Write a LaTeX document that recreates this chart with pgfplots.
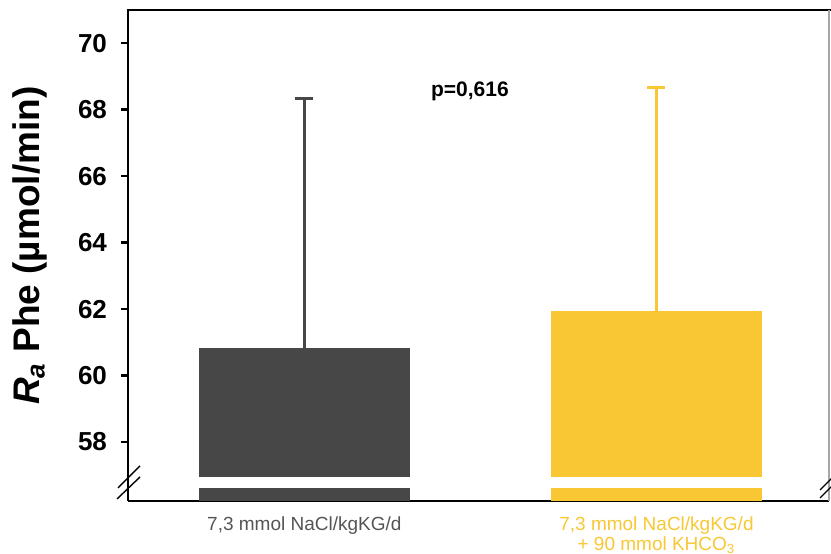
\documentclass[border=0pt]{standalone}
\usepackage{fontspec}
\setmainfont{Liberation Sans}
\usepackage{pgfplots}
\pgfplotsset{compat=1.18}
\definecolor{dgray}{HTML}{474747}
\definecolor{lgray}{HTML}{555555}
\definecolor{yel}{HTML}{F8C733}
\begin{document}
\begin{tikzpicture}
\begin{axis}[
  scale only axis, width=350.5pt, height=245.5pt,
  xmin=-0.501, xmax=1.49, ymin=56.226, ymax=71,
  axis lines=left, axis line style={-, line width=1.4pt, black},
  ytick={58,60,...,70},
  /pgf/number format/assume math mode=true,
  yticklabel style={font=\bfseries\fontsize{13}{13}\selectfont, xshift=-3.5pt},
  tick align=outside, major tick length=3.5pt,
  ytick style={line width=1.2pt, black},
  xtick={0,1}, xtick style={draw=none},
  xticklabels={{\color{lgray}7,3 mmol NaCl/kgKG/d}, {\color{yel}7,3 mmol NaCl/kgKG/d\\\color{yel}+ 90 mmol KHCO\textsubscript{3}}},
  xticklabel style={align=center, font=\fontsize{9.5}{10}\selectfont, yshift=-1pt},
  ylabel={\textit{R}\textsubscript{\textit{a}} Phe (µmol/min)},
  ylabel style={font=\bfseries\fontsize{18.5}{18.5}\selectfont, at={(axis description cs:-0.14,0.52)}, anchor=center},
  clip=true,
]
\addplot[ybar, bar width=0.6, fill=dgray, draw=none,
  error bars/.cd, y dir=plus, y explicit,
  error bar style={line width=1.5pt, color=dgray},
  error mark options={rotate=90, mark size=4.5pt, line width=1.5pt, color=dgray}]
  coordinates {(0,60.83) +- (0,7.52)};
\addplot[ybar, bar width=0.6, fill=yel, draw=none,
  error bars/.cd, y dir=plus, y explicit,
  error bar style={line width=1.5pt, color=yel},
  error mark options={rotate=90, mark size=4.5pt, line width=1.5pt, color=yel}]
  coordinates {(1,61.94) +- (0,6.74)};
\fill[white] (axis cs:-0.45,56.62) rectangle (axis cs:1.45,56.95);
\node[font=\bfseries\fontsize{10.5}{12}\selectfont] at (axis cs:0.47,68.56) {p=0,616};
\coordinate (bl) at (rel axis cs:0,0);
\coordinate (br) at (rel axis cs:1,0);
\coordinate (tl) at (rel axis cs:0,1);
\coordinate (tr) at (rel axis cs:1,1);
\end{axis}
\draw[line width=1.4pt, black] ([xshift=-0.7pt]tl) -- ([xshift=1pt]tr);
\draw[line width=0.6pt, black!35] (tr) -- (br);
\draw[line width=0.7pt, black] ([xshift=-5.5pt,yshift=1pt]bl) -- ([xshift=6pt,yshift=12pt]bl);
\draw[line width=0.7pt, black] ([xshift=-5pt,yshift=6.5pt]bl) -- ([xshift=6pt,yshift=17.5pt]bl);
\draw[line width=0.7pt, black] ([xshift=-4.5pt,yshift=1.5pt]br) -- ([xshift=1.5pt,yshift=7.5pt]br);
\draw[line width=0.7pt, black] ([xshift=-4.5pt,yshift=5.5pt]br) -- ([xshift=1.5pt,yshift=11.5pt]br);
\pgfresetboundingbox
\path[use as bounding box] ([xshift=-64pt,yshift=-26.5pt]bl) rectangle ([xshift=1pt,yshift=5pt]tr);
\end{tikzpicture}
\end{document}
